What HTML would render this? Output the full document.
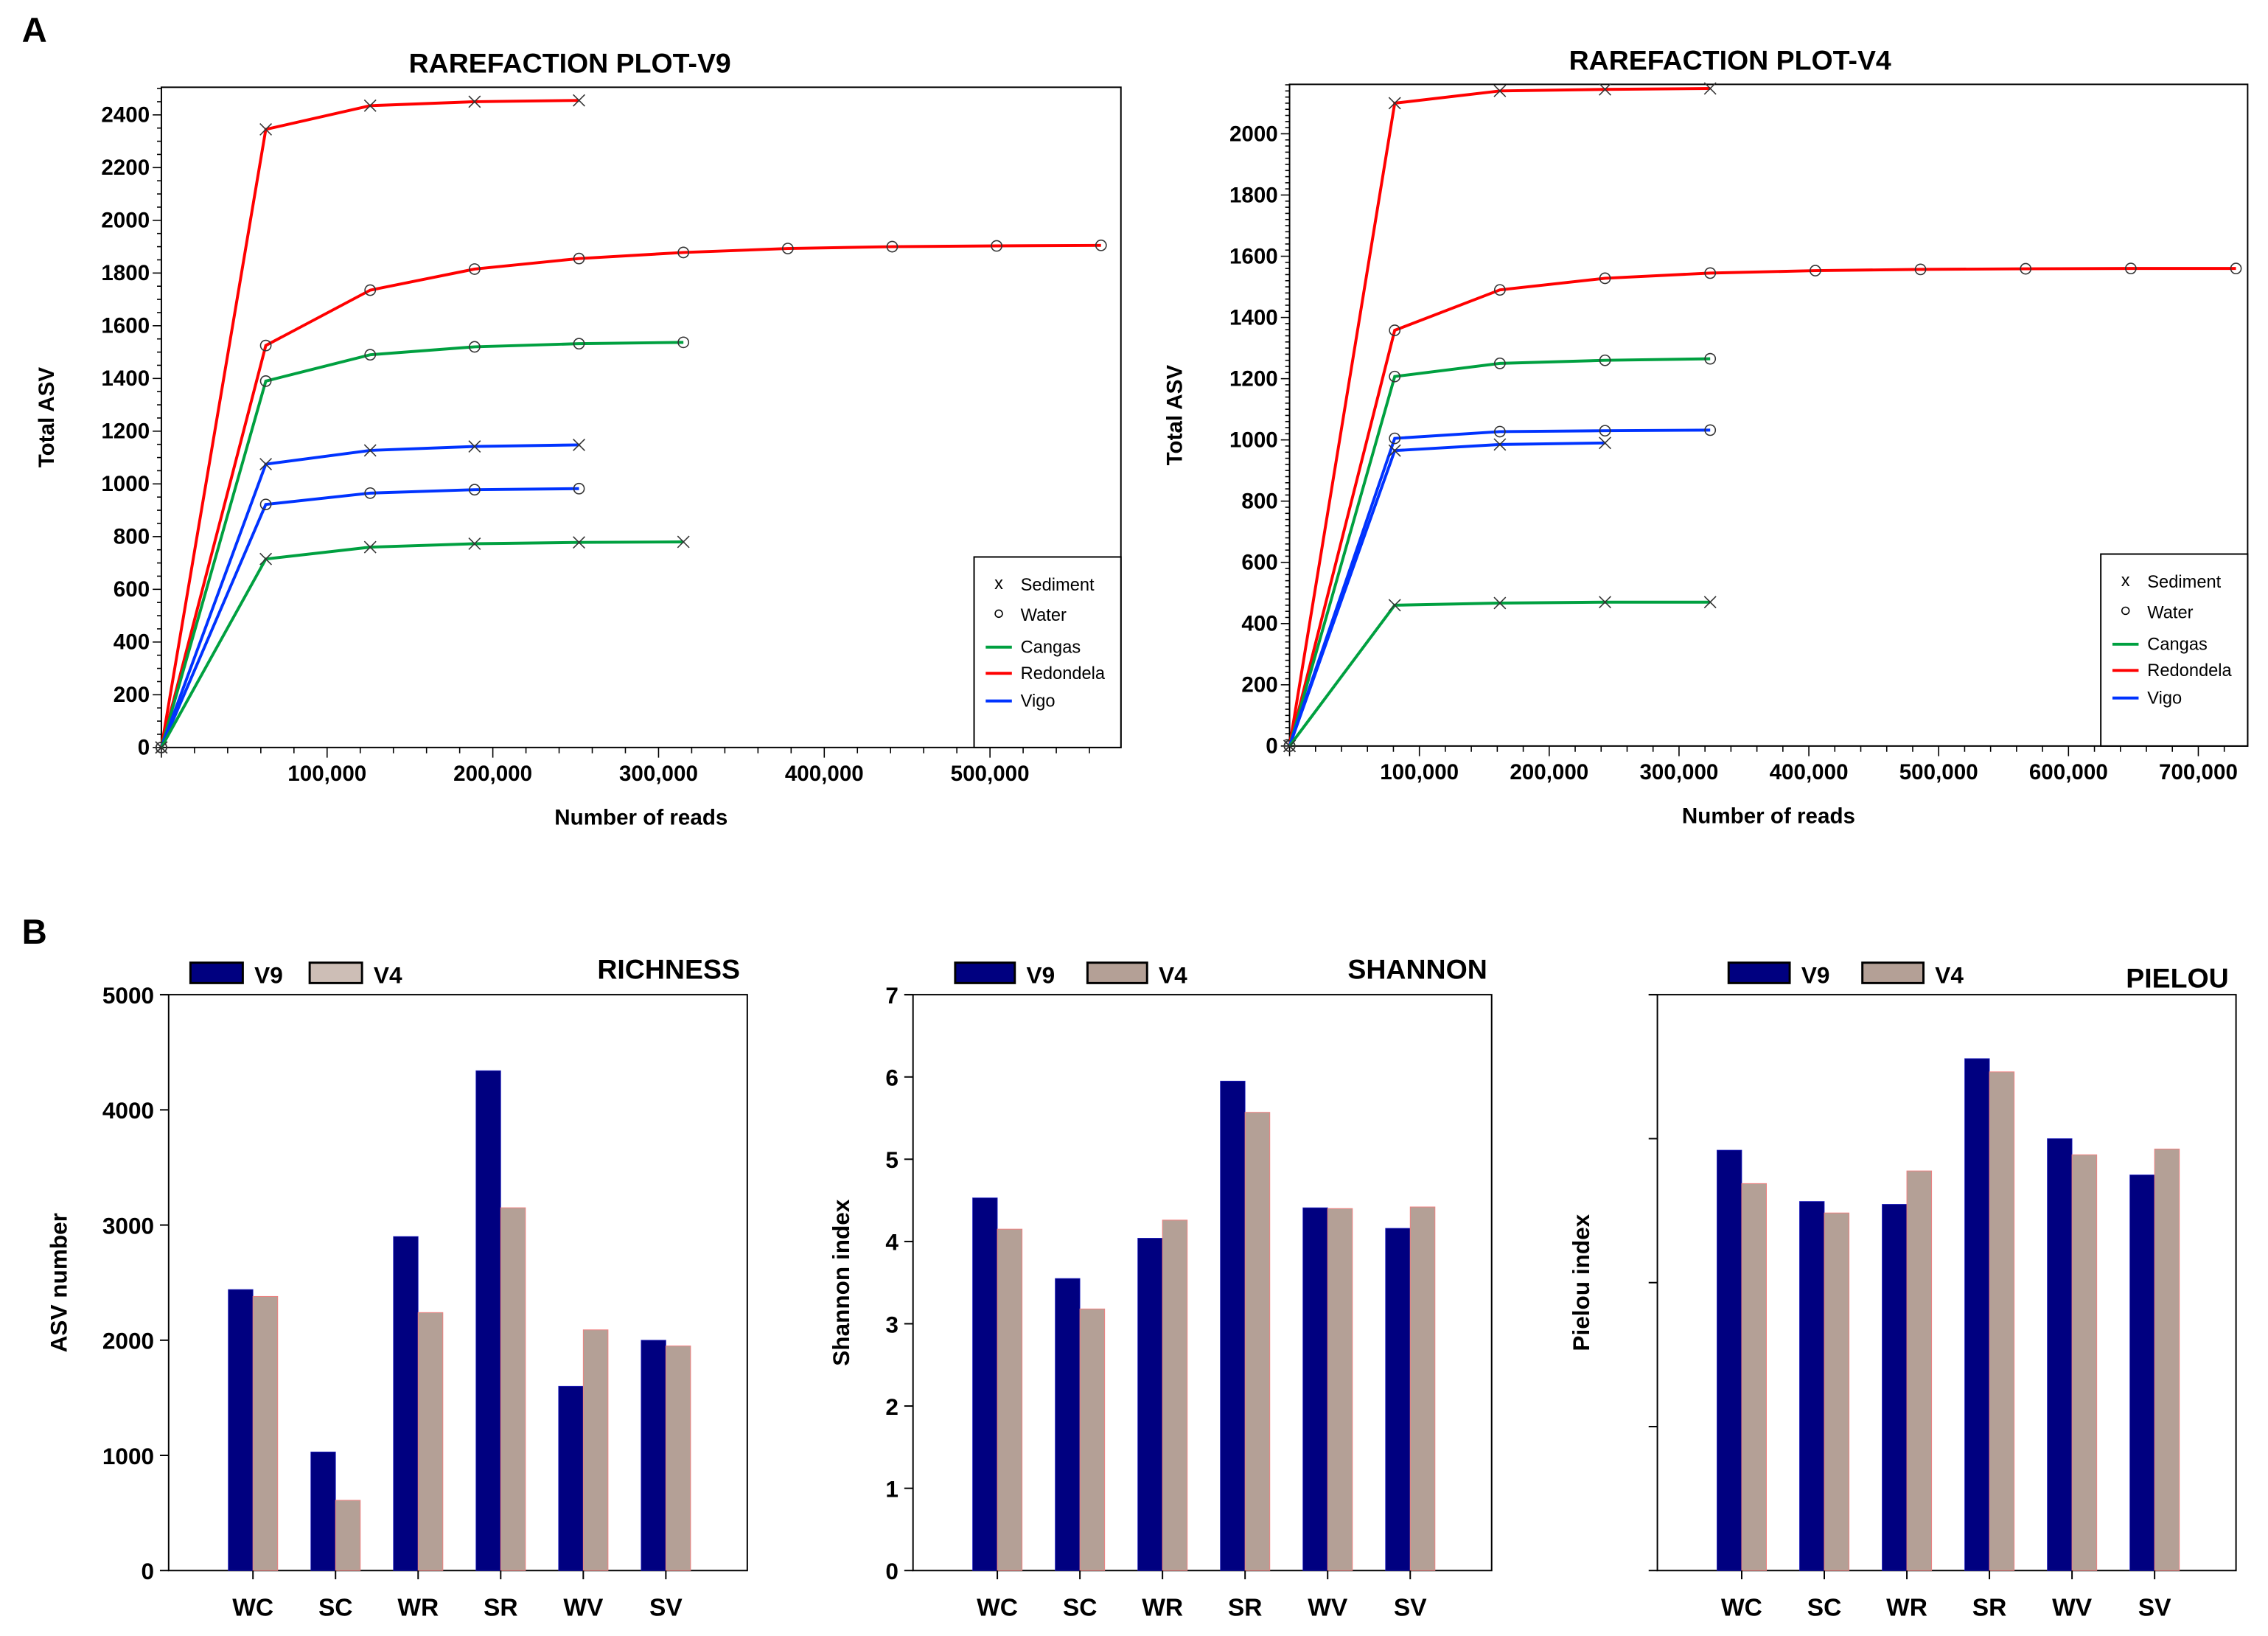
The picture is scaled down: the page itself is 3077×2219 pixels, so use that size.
<!DOCTYPE html>
<html><head><meta charset="utf-8"><title>Rarefaction and diversity</title>
<style>
html,body{margin:0;padding:0;background:#fff;}
svg{display:block;}
text{font-family:"Liberation Sans Narrow","Liberation Sans",sans-serif;font-weight:bold;fill:#000;}
.wide{font-family:"Liberation Sans",sans-serif;}
.leg{font-family:"Liberation Sans",sans-serif;font-weight:normal;font-size:12px;}
</style></head>
<body>
<svg id="fig" width="3077" height="2219" viewBox="0 0 1560 1125" preserveAspectRatio="none" xmlns="http://www.w3.org/2000/svg">
<text x="15" y="29" font-size="24" class="wide">A</text>
<text x="15" y="649" font-size="24" class="wide">B</text>
<g id="root"></g>
</svg>
<script>
// ---------- Rarefaction data ----------
const v9Step = 63000;
const v9RedSed = [0, 2345, 2435, 2450, 2455];
const v9RedWat = [0, 1525, 1735, 1815, 1855, 1878, 1893, 1900, 1903, 1905];
const v9CanWat = [0, 1390, 1490, 1520, 1532, 1537];
const v9VigSed = [0, 1075, 1127, 1142, 1148];
const v9VigWat = [0, 922, 965, 978, 982];
const v9CanSed = [0, 715, 760, 773, 778, 780];
const v9XTicks = [100000, 200000, 300000, 400000, 500000];
const v9YTicks = [0,200,400,600,800,1000,1200,1400,1600,1800,2000,2200,2400];

const v4Step = 81000;
const v4RedSed = [0, 2100, 2140, 2145, 2148];
const v4RedWat = [0, 1358, 1490, 1528, 1545, 1553, 1557, 1559, 1560, 1560];
const v4CanWat = [0, 1207, 1250, 1260, 1265];
const v4VigWat = [0, 1005, 1027, 1030, 1032];
const v4VigSed = [0, 965, 985, 990];
const v4CanSed = [0, 460, 467, 470, 470];
const v4XTicks = [100000, 200000, 300000, 400000, 500000, 600000, 700000];
const v4YTicks = [0,200,400,600,800,1000,1200,1400,1600,1800,2000];

// ---------- Bar data ----------
const sites = ["WC","SC","WR","SR","WV","SV"];
const richV9 = [2440, 1030, 2900, 4340, 1600, 2000];
const richV4 = [2380, 610, 2240, 3150, 2090, 1950];
const richTicks = [0,1000,2000,3000,4000,5000];
const shanV9 = [4.53, 3.55, 4.04, 5.95, 4.41, 4.16];
const shanV4 = [4.15, 3.18, 4.26, 5.57, 4.40, 4.42];
const shanTicks = [0,1,2,3,4,5,6,7];
const pielV9 = [0.730, 0.641, 0.636, 0.889, 0.750, 0.687];
const pielV4 = [0.672, 0.621, 0.694, 0.866, 0.722, 0.732];
const pielTicks = [0,0.25,0.5,0.75,1];

const NS="http://www.w3.org/2000/svg";
const root=document.getElementById('root');
function el(tag,attrs,parent,txt){const e=document.createElementNS(NS,tag);for(const k in attrs)e.setAttribute(k,attrs[k]);if(txt!==undefined)e.textContent=txt;(parent||root).appendChild(e);return e;}
const RED="#ff0000",GRN="#00a040",BLU="#0033ff";

function rare(cfg){
  const g=el('g',{});
  
  
  const X=v=>cfg.x0+(v-0)/cfg.xmax*(cfg.x1-cfg.x0);
  const Y=v=>cfg.y0-v/cfg.ymax*(cfg.y0-cfg.yTopVal);
  // frame
  const fr=el('rect',{x:cfg.x0,y:cfg.top,width:cfg.x1-cfg.x0,height:cfg.y0-cfg.top,fill:'none',stroke:'#000','stroke-width':1},g);
  
  
  // y ticks
  for(let v=0;Y(v)>=cfg.top-0.5;v+=cfg.yminor){
    const major=v%200===0;
    el('line',{x1:cfg.x0,x2:cfg.x0-(major?6:3),y1:Y(v),y2:Y(v),stroke:'#000','stroke-width':0.8},g);
  }
  cfg.yt.forEach(v=>{
    const t=el('text',{x:cfg.x0-8,y:Y(v)+5,'font-size':15,'text-anchor':'end'},g,String(v));
    
    
  });
  for(let v=0;X(v)<=cfg.x1+0.5;v+=20000){
    el('line',{x1:X(v),x2:X(v),y1:cfg.y0,y2:cfg.y0+(v%100000===0?7:4),stroke:'#000','stroke-width':0.8},g);
  }
  cfg.xt.forEach(v=>{
    const t=el('text',{x:X(v),y:cfg.y0+23,'font-size':15,'text-anchor':'middle'},g,v.toLocaleString('en-US'));
    
    
  });
  const tt=el('text',{x:cfg.titleX,y:cfg.titleY,'font-size':19,'text-anchor':'middle'},g,cfg.title);
  
  
  const xt=el('text',{x:(cfg.x0+cfg.x1)/2,y:cfg.y0+53,'font-size':15,'text-anchor':'middle'},g,'Number of reads');
  
  
  const cy=(cfg.top+cfg.y0)/2;
  const yt=el('text',{x:0,y:0,'font-size':15,'text-anchor':'middle',class:'wide',transform:`translate(${cfg.x0-74},${cy}) rotate(-90)`},g,'Total ASV');
  
  
  // series
  cfg.series.forEach(s=>{
    const pts=s.d.map((v,i)=>[X(i*cfg.step),Y(v)]);
    const p=el('polyline',{points:pts.map(p=>p.join(',')).join(' '),fill:'none',stroke:s.c,'stroke-width':2},g);
    
    
    pts.forEach(([px,py])=>{
      if(s.m==='x'){
        el('path',{d:`M${px-4},${py-4}L${px+4},${py+4}M${px-4},${py+4}L${px+4},${py-4}`,stroke:'#333','stroke-width':0.8,fill:'none'},g);
      }else{
        el('circle',{cx:px,cy:py,r:3.6,fill:'none',stroke:'#333','stroke-width':0.8},g);
      }
    });
  });
  // legend
  const L=cfg.leg;
  const lb=el('rect',{x:L.x,y:L.y,width:cfg.x1-L.x,height:cfg.y0-L.y,fill:'#fff',stroke:'#000','stroke-width':1},g);
  
  
  const items=[['x','Sediment',19],['o','Water',40],[GRN,'Cangas',62],[RED,'Redondela',80],[BLU,'Vigo',99]];
  items.forEach(([k,lab,dy])=>{
    const yy=L.y+dy;
    if(k==='x') el('text',{x:L.x+17,y:yy+3,'font-size':10,'text-anchor':'middle',class:'leg'},g,'x');
    else if(k==='o') el('circle',{cx:L.x+17,cy:yy-1,r:2.5,fill:'none',stroke:'#000','stroke-width':0.8},g);
    else el('line',{x1:L.x+8,x2:L.x+26,y1:yy,y2:yy,stroke:k,'stroke-width':2},g);
    const t=el('text',{x:L.x+32,y:yy+4,class:'leg'},g,lab);
    
    
  });
}

rare({name:'rarefaction-v9',title:'RAREFACTION PLOT-V9',titleX:392,titleY:50,x0:111,x1:771,top:60,y0:514,xmax:579000,ymax:2400,yTopVal:79,yminor:50,step:v9Step,
  xt:v9XTicks,yt:v9YTicks,leg:{x:670,y:383},
  series:[{d:v9RedSed,c:RED,m:'x',n:'line-redondela-sediment'},{d:v9RedWat,c:RED,m:'o',n:'line-redondela-water'},
  {d:v9CanWat,c:GRN,m:'o',n:'line-cangas-water'},{d:v9VigSed,c:BLU,m:'x',n:'line-vigo-sediment'},
  {d:v9VigWat,c:BLU,m:'o',n:'line-vigo-water'},{d:v9CanSed,c:GRN,m:'x',n:'line-cangas-sediment'}]});
rare({name:'rarefaction-v4',title:'RAREFACTION PLOT-V4',titleX:1190,titleY:48,x0:887,x1:1546,top:58,y0:513,xmax:738000,ymax:2000,yTopVal:92,yminor:20,step:v4Step,
  xt:v4XTicks,yt:v4YTicks,leg:{x:1445,y:381},
  series:[{d:v4RedSed,c:RED,m:'x',n:'line-redondela-sediment'},{d:v4RedWat,c:RED,m:'o',n:'line-redondela-water'},
  {d:v4CanWat,c:GRN,m:'o',n:'line-cangas-water'},{d:v4VigWat,c:BLU,m:'o',n:'line-vigo-water'},
  {d:v4VigSed,c:BLU,m:'x',n:'line-vigo-sediment'},{d:v4CanSed,c:GRN,m:'x',n:'line-cangas-sediment'}]});

function bars(cfg){
  const g=el('g',{});
  
  
  const top=684,y0=1080,x0=cfg.x0,x1=cfg.x0+398;
  const Y=v=>y0-v/cfg.ymax*(y0-top);
  const X=i=>x0+58+i*56.8;
  el('path',{d:`M${x0},${top}L${x0},${y0}L${x1},${y0}L${x1},${top}L${x0-6},${top}`,fill:'none',stroke:'#000','stroke-width':1},g);
  cfg.ticks.forEach(v=>{
    el('line',{x1:x0-6,x2:x0,y1:Y(v),y2:Y(v),stroke:'#000','stroke-width':1},g);
    if(cfg.labels){
      const t=el('text',{x:x0-10,y:Y(v)+6,'font-size':16,'text-anchor':'end'},g,String(v));
      
      
    }
  });
  sites.forEach((s,i)=>{
    const cx=X(i);
    const b1=el('rect',{x:cx-17,y:Y(cfg.a[i]),width:17,height:y0-Y(cfg.a[i]),fill:'#000080',stroke:'#2020c0','stroke-width':0.4},g);
    
    
    const b2=el('rect',{x:cx,y:Y(cfg.b[i]),width:17,height:y0-Y(cfg.b[i]),fill:'#b4a096',stroke:'#f08080','stroke-width':0.5},g);
    
    
    el('line',{x1:cx,x2:cx,y1:y0,y2:y0+6,stroke:'#000','stroke-width':1},g);
    const t=el('text',{x:cx,y:y0+31,'font-size':17,'text-anchor':'middle',class:'wide'},g,s);
    
    
  });
  const sw1=el('rect',{x:cfg.lx,y:cfg.ly,width:cfg.sw,height:14,fill:'#000080',stroke:'#000','stroke-width':1.5},g);
  
  
  el('text',{x:cfg.lx+cfg.sw+8,y:cfg.ly+14,'font-size':16},g,'V9');
  const sw2=el('rect',{x:cfg.lx+cfg.gap,y:cfg.ly,width:cfg.sw,height:14,fill:cfg.v4leg,stroke:'#000','stroke-width':1.5},g);
  
  
  el('text',{x:cfg.lx+cfg.gap+cfg.sw+8,y:cfg.ly+14,'font-size':16},g,'V4');
  const tt=el('text',{x:cfg.tx,y:cfg.ty,'font-size':19,'text-anchor':'end',class:cfg.tclass||''},g,cfg.title);
  
  
  const yt=el('text',{x:0,y:0,'font-size':16,'text-anchor':'middle',class:'wide',transform:`translate(${cfg.ytx},882) rotate(-90)`},g,cfg.ytitle);
  
  
}
bars({name:'richness-chart',x0:116,ymax:5000,ticks:richTicks,labels:true,a:richV9,b:richV4,lx:131,ly:662,sw:36,gap:82,v4leg:'#cdbeb6',title:'RICHNESS',tx:509,ty:673,ytitle:'ASV number',ytx:46});
bars({name:'shannon-chart',x0:628,ymax:7,ticks:shanTicks,labels:true,a:shanV9,b:shanV4,lx:657,ly:662,sw:41,gap:91,v4leg:'#b4a096',title:'SHANNON',tx:1023,ty:673,ytitle:'Shannon index',ytx:584,tclass:'wide'});
bars({name:'pielou-chart',x0:1140,ymax:1,ticks:pielTicks,labels:false,a:pielV9,b:pielV4,lx:1189,ly:662,sw:42,gap:92,v4leg:'#b4a096',title:'PIELOU',tx:1533,ty:679,ytitle:'Pielou index',ytx:1093,tclass:'wide'});
</script>
</body></html>
